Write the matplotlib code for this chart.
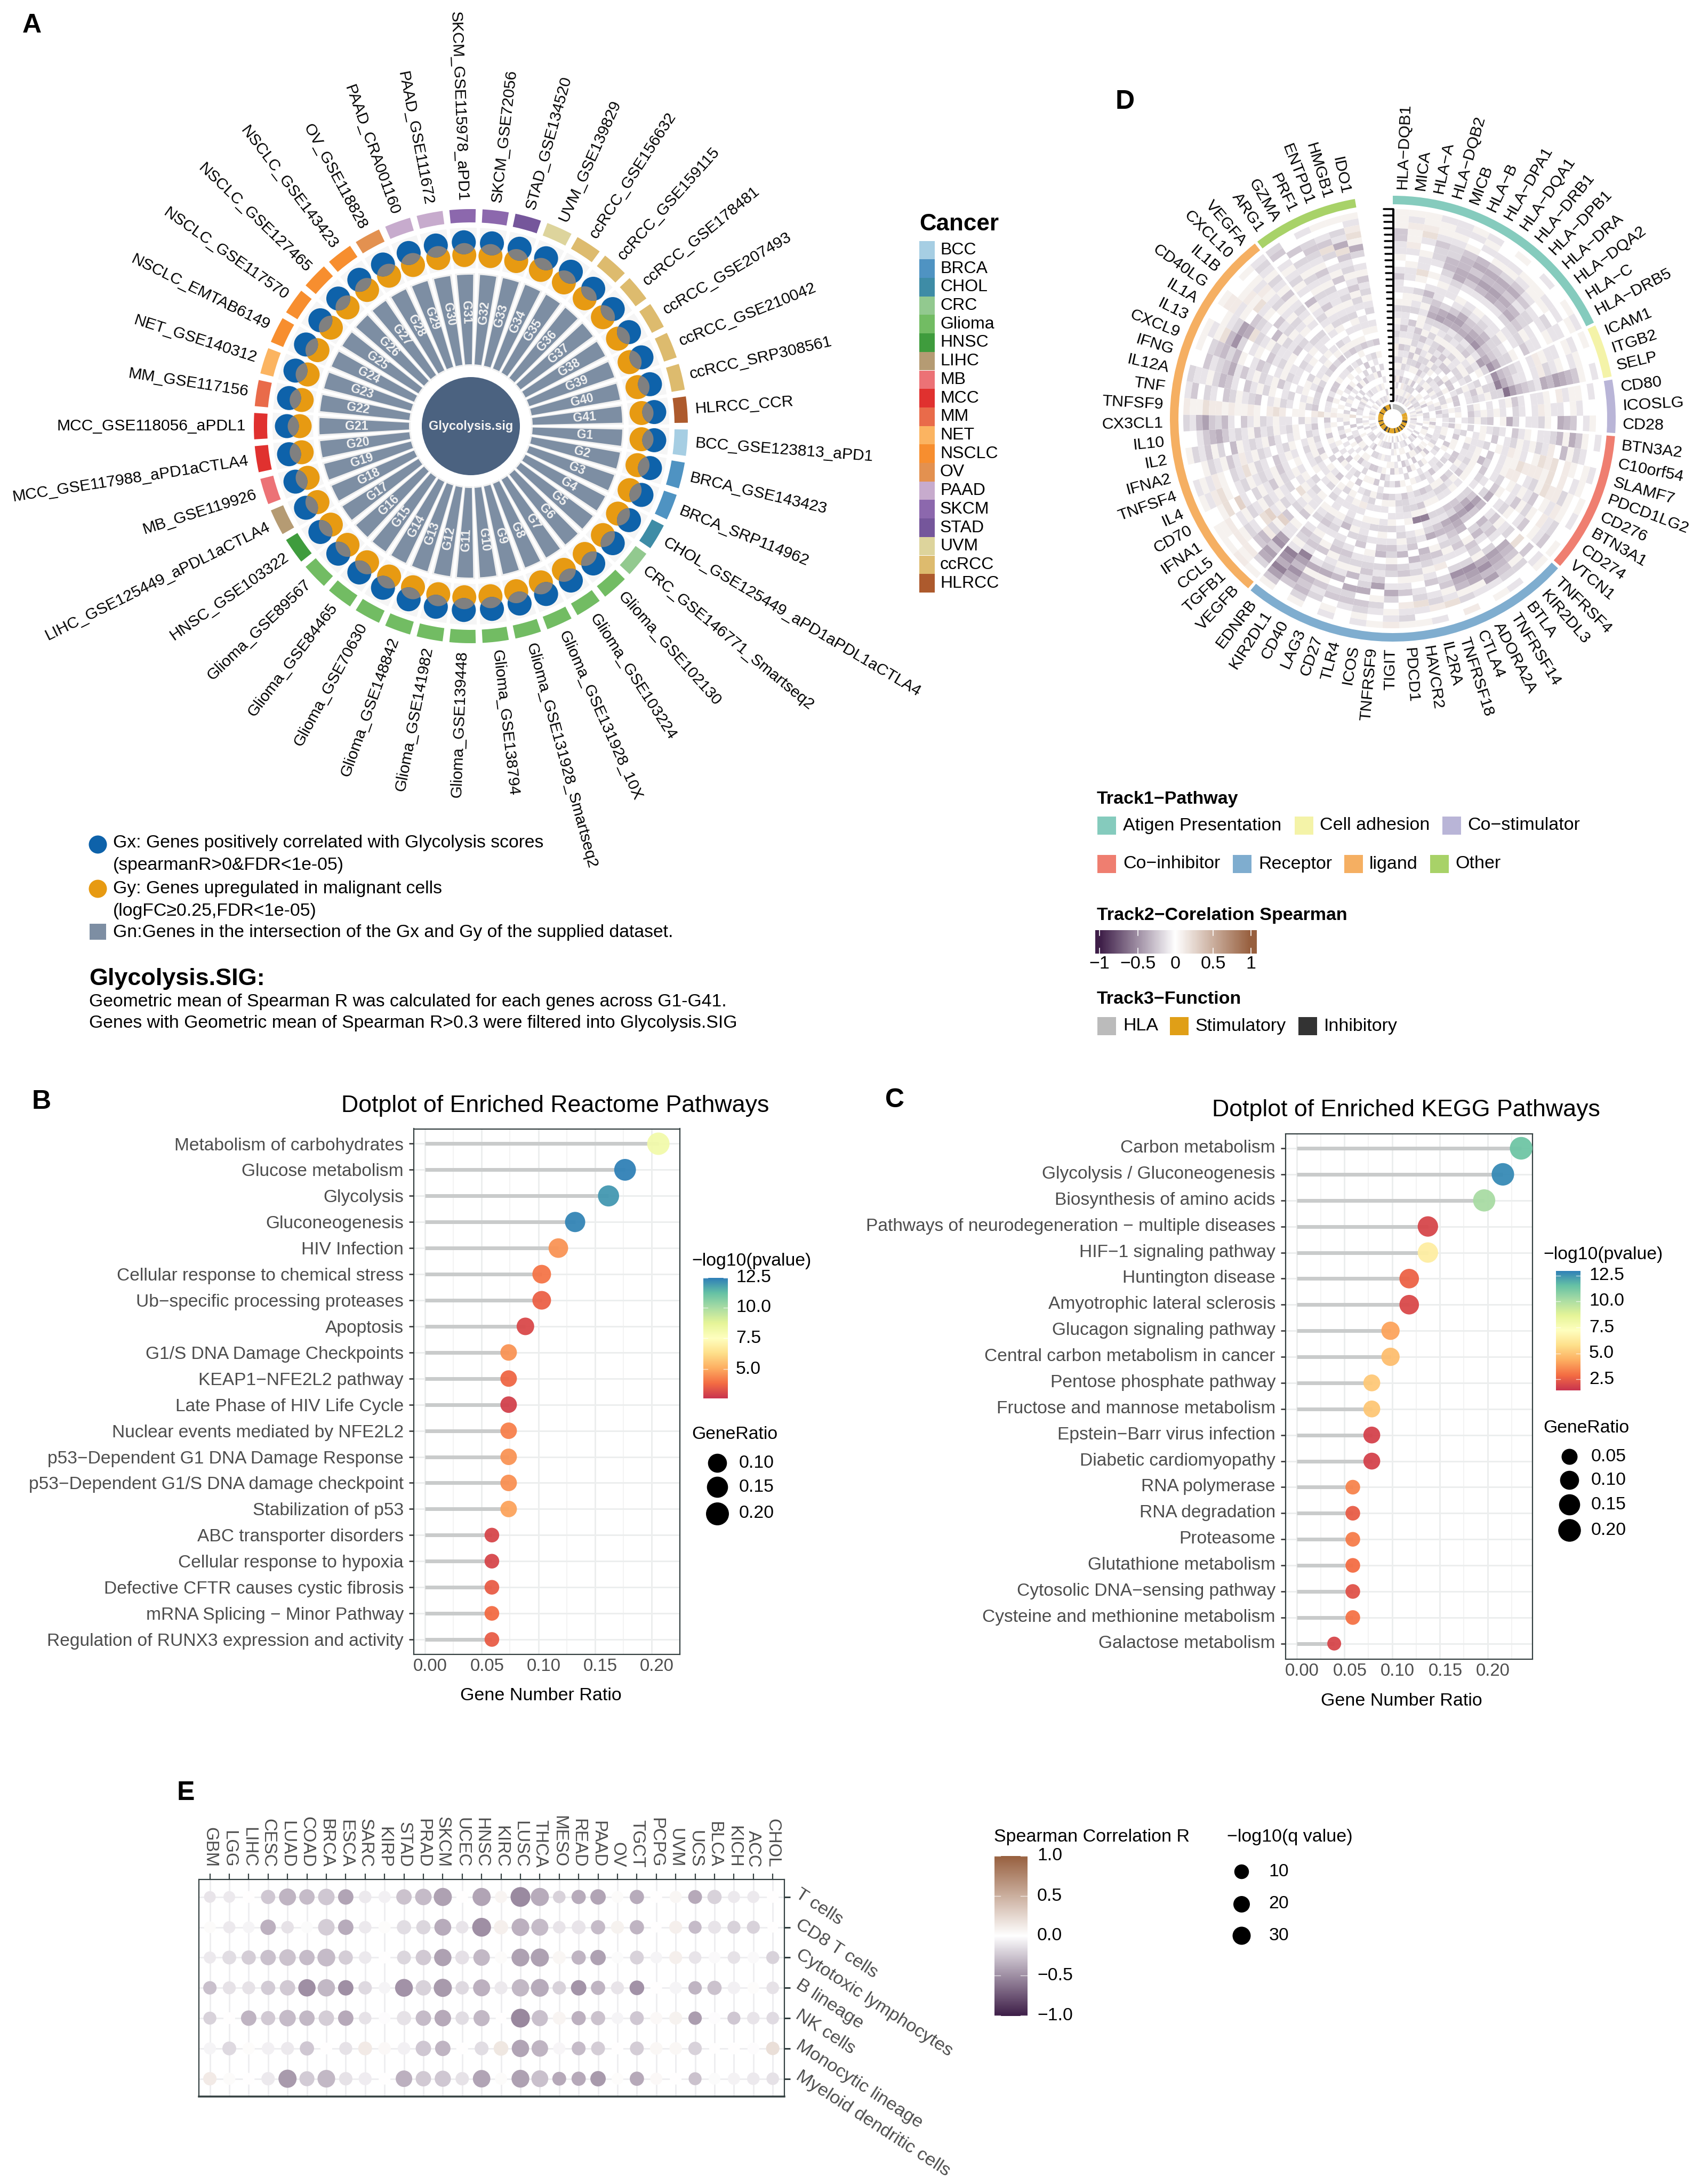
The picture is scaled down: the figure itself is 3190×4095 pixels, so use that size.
import numpy as np
import matplotlib
matplotlib.use("Agg")
import matplotlib.pyplot as plt
from matplotlib.patches import Wedge, Circle, Rectangle, Polygon
from matplotlib.colors import LinearSegmentedColormap
from matplotlib.transforms import ScaledTranslation

plt.rcParams['font.family'] = ['Liberation Sans', 'DejaVu Sans']
W, H = 3190, 4095
DPI = 100
def fs(px):
    return px * 72 / DPI

# ---------- Panel A data
A_datasets = ["BCC_GSE123813_aPD1","BRCA_GSE143423","BRCA_SRP114962","CHOL_GSE125449_aPD1aPDL1aCTLA4",
 "CRC_GSE146771_Smartseq2","Glioma_GSE102130","Glioma_GSE103224","Glioma_GSE131928_10X",
 "Glioma_GSE131928_Smartseq2","Glioma_GSE138794","Glioma_GSE139448","Glioma_GSE141982","Glioma_GSE148842",
 "Glioma_GSE70630","Glioma_GSE84465","Glioma_GSE89567","HNSC_GSE103322","LIHC_GSE125449_aPDL1aCTLA4",
 "MB_GSE119926","MCC_GSE117988_aPD1aCTLA4","MCC_GSE118056_aPDL1","MM_GSE117156","NET_GSE140312",
 "NSCLC_EMTAB6149","NSCLC_GSE117570","NSCLC_GSE127465","NSCLC_GSE143423","OV_GSE118828","PAAD_CRA001160",
 "PAAD_GSE111672","SKCM_GSE115978_aPD1","SKCM_GSE72056","STAD_GSE134520","UVM_GSE139829","ccRCC_GSE156632",
 "ccRCC_GSE159115","ccRCC_GSE178481","ccRCC_GSE207493","ccRCC_GSE210042","ccRCC_SRP308561","HLRCC_CCR"]
A_cancers = ["BCC","BRCA","CHOL","CRC","Glioma","HNSC","LIHC","MB","MCC","MM","NET","NSCLC","OV","PAAD","SKCM","STAD","UVM","ccRCC","HLRCC"]
A_colors = ["#A6CEE3","#4F93C2","#3E8CA6","#92C98F","#72BC63","#3F9C3D","#B59B73","#EC7276","#E0312F","#E96B4A",
            "#FBB461","#F78E2F","#E39150","#C7ABCD","#8C68AD","#75569B","#DDD49C","#DDBB6E","#AD5A2D"]
A_texts = ["Gx: Genes positively correlated with Glycolysis scores","(spearmanR>0&FDR<1e-05)",
           "Gy: Genes upregulated in malignant cells","(logFC\u22650.25,FDR<1e-05)",
           "Gn:Genes in the intersection of the Gx and Gy of the supplied dataset."]

# ---------- Panel B data
B_terms = ["Metabolism of carbohydrates","Glucose metabolism","Glycolysis","Gluconeogenesis","HIV Infection",
 "Cellular response to chemical stress","Ub\u2212specific processing proteases","Apoptosis","G1/S DNA Damage Checkpoints",
 "KEAP1\u2212NFE2L2 pathway","Late Phase of HIV Life Cycle","Nuclear events mediated by NFE2L2",
 "p53\u2212Dependent G1 DNA Damage Response","p53\u2212Dependent G1/S DNA damage checkpoint","Stabilization of p53",
 "ABC transporter disorders","Cellular response to hypoxia","Defective CFTR causes cystic fibrosis",
 "mRNA Splicing \u2212 Minor Pathway","Regulation of RUNX3 expression and activity"]
B_ratio = [0.206,0.1766,0.162,0.1325,0.1177,0.103,0.103,0.0886,0.0738,0.0738,0.0738,0.0738,0.0738,0.0738,0.0738,0.059,0.059,0.059,0.059,0.059]
B_logp = [8.2,12.45,12.0,12.35,4.6,4.0,3.6,3.1,4.6,3.7,2.9,4.2,4.6,4.5,4.9,3.0,3.0,3.5,3.8,3.5]

# ---------- Panel C data
C_terms = ["Carbon metabolism","Glycolysis / Gluconeogenesis","Biosynthesis of amino acids",
 "Pathways of neurodegeneration \u2212 multiple diseases","HIF\u22121 signaling pathway","Huntington disease",
 "Amyotrophic lateral sclerosis","Glucagon signaling pathway","Central carbon metabolism in cancer",
 "Pentose phosphate pathway","Fructose and mannose metabolism","Epstein\u2212Barr virus infection",
 "Diabetic cardiomyopathy","RNA polymerase","RNA degradation","Proteasome","Glutathione metabolism",
 "Cytosolic DNA\u2212sensing pathway","Cysteine and methionine metabolism","Galactose metabolism"]
C_ratio = [0.2352,0.216,0.1964,0.1374,0.1374,0.1178,0.1178,0.0982,0.0982,0.0786,0.0786,0.0786,0.0786,0.0587,0.0587,0.0587,0.0587,0.0587,0.0587,0.0392]
C_logp = [11.3,12.7,10.1,1.9,6.4,2.6,2.0,4.1,4.8,5.1,5.0,1.8,1.8,3.4,2.5,3.2,2.9,2.2,3.0,1.9]

# ---------- Panel D data
D_genes = ["HLA\u2212DQB1","MICA","HLA\u2212A","HLA\u2212DQB2","MICB","HLA\u2212B","HLA\u2212DPA1","HLA\u2212DQA1","HLA\u2212DRB1","HLA\u2212DPB1",
 "HLA\u2212DRA","HLA\u2212DQA2","HLA\u2212C","HLA\u2212DRB5","ICAM1","ITGB2","SELP","CD80","ICOSLG","CD28","BTN3A2","C10orf54",
 "SLAMF7","PDCD1LG2","CD276","BTN3A1","CD274","VTCN1","TNFRSF4","KIR2DL3","BTLA","TNFRSF14","ADORA2A","CTLA4","TNFRSF18",
 "IL2RA","HAVCR2","PDCD1","TIGIT","TNFRSF9","ICOS","TLR4","CD27","LAG3","CD40","KIR2DL1","EDNRB","VEGFB","TGFB1","CCL5",
 "IFNA1","CD70","IL4","TNFSF4","IFNA2","IL2","IL10","CX3CL1","TNFSF9","TNF","IL12A","IFNG","CXCL9","IL13","IL1A","CD40LG",
 "IL1B","CXCL10","VEGFA","ARG1","GZMA","PRF1","ENTPD1","HMGB1","IDO1"]
D_path_names = ["Atigen Presentation","Cell adhesion","Co\u2212stimulator","Co\u2212inhibitor","Receptor","ligand","Other"]
D_path_sizes = [14,3,3,8,19,22,6]
D_path_colors = ["#85CBBD","#F4F3A8","#B9B5D7","#EF7E70","#7FADCF","#F5AF62","#A8D268"]
D_function = "HHHHHHHHHHHHHH"+"SSSSSSS"+"II"+"SSS"+"I"+"SS"+"I"+"SS"+"I"+"SSS"+"I"+"SSSSS"+"I"+"SS"+"II"+"SSSS"+"I"+"SSS"+"I"+"SSSSSSS"+"I"+"SSSS"+"II"+"SSSS"+"I"
D_func_colors = {"H":"#BBBBBB","S":"#E09F17","I":"#333333"}
# one string per gene, outer ring first; '.'=0, digits = negative levels, letters = positive levels
D_heat_raw = [
"aaa3311a.1 311.a21a12 1ba2a13a21",  "a1baab1.a1 1.1aa21131 a312a1b2a1",  "aabc1.a11c a.2a12.311 a21a213.a3",
"1aa13221.a .142a1aa32 2a321.1ba1",  "11a1224421 a1134521a3 13a2a.21a2",  "a1.a344552 11.2562a21 a123a.a212",
"1a1.453531 .a136521a2 2a213132a1",  "..1a354641 .1256512a3 13a21a.2b3",  "a.1a254651 .a134521a1 312a.12.1a",
"..a1353541 .1235612a2 a31.2a3.b1",  "1.aa131452 .1145723a1 13.21a.a2b",  "..1a.12232 1a22341a1a 2.a312.a1.",
"a.1.21.1a2 1.1235612a 213.1a1.23",  "1a.11a.113 .a22572a.2 1.3a21.a2a",  "a.1a.11ab1 .123471.21 a21.2.a31.",
"..a1.a12b1 .1135822a3 1.3a2a1.a1",  "1.a3456451 2346922a12 1.3.a21.2a",  ".1.aa1b.a1 1.13a1.1.a 2.1a13.2a1",
"...1a.11ab 1.12.1a1a1 3.a.21.2.a",  ".a1.345.a2 11.25a.32a 21.21.a1.3",
"1.a35a4211 .a13.121a. 2.a31.3a.1",  "..12a4.b12 a1a21.3.a1 .21.a1a.21",  "1a.ab.cbca .1ab1a.211 a.3.a1.2.a",
".a1.b.cabb bcaa1.3.a1 2.a.21.a.1",  "a.a2bbca21 .bba1.24a1 1.a3.12a.1",  "1.ab1a.31a 1a.21.3.a2 13.a.21.2.",
"..21b.a2a3 1.a3.12.a1 a31.2a.1.1",  "a.31a.31.a 21.52.1.a3 1.2.1.a.3.",
"a1.3.c.21a 31.4632.1a 2.21.3a.1.",  "..2a345.13 24.3752.a1 3.11.a3.2.",  "1.234562.1 42.3643.12 a.3.a.21.a",
"a.16475a23 a.45623.12 a11.2.a3.1",  "..1a5672.1 3234512.a1 2.21.3a.2.",  "b.2a4572.1 a214312.a1 3.1.a.2.1a",
"..c1a32.b1 3a.5218a31 2.a.31.a1.",  "1.b21.31a2 34.1a.8a21 1a.2.3.a.2",
"a.1c21.a21 4.321.a122 3.a.1.2.1a",  "a21b.31a32 .41a21.112 1.3.a1.a2.",  "b1a.251.23 a231.2a1.a 2.1.3a.1.2",
"a.12a.6312 .431a21.1a 3.21.a1.3.",  "1a23.52132 1a.1.2a.1. 21.3a.1.2a",  "..1325.4a2 1.3211a.12 a.3.1.a.2.",
"1a.32.41a2 31.2a1.1b1 2.a.3.1.2a",  "..213a521a 321.4211a. 1.a.3.2.1.",  "a2434a51.3 a.121a.11a .3.21.2.a1",
"..35746813 2a132a11.2 a.2.1a.3.1",  "a3685781a2 31.21a.21a .11.3a.1.2",
"a.25637611 a.3a11a.2a 3.1.a.2.21",  "bab.34b2ad 3.21a12.1a 1.a3.1a.2.",  "a.ba21.cd1 a21.ca12.1 a.3.1.a.2.",
"aab.1a21a2 1a12.1a.a1 .2.1.a3.1.",  "..ac.d1.2a 13a21a1.12 a.2.1.3a.1",  "a1bca.12a1 21a31.a.1a 3.1a.21..2",
"1a1ba.21ca 21.31a1.2a 1.a.3.1.2a",  "..a21a31b1 a21.12a.1a 2.3.1a.2.1",  "a213a2.4a1 21a31.1a.2 1.a.2.3.a.",
"..13453121 a312a12a.1 3.1a.2.21.",  "21463241.3 1a21a11.2a 1.3.1a.2.1",  "baacbbabaa ba.bcb.aa. bcabaac.ab",
"13.21.32a1 23.1a21.a2 3.1a.2.1.a",  "211a2431.3 1a2a.12.1a 2.1.a.31.2",  "..31235131 a21a31.1a. 2.3a.1.2.1",
"a.23424a.1 32.1a21.a1 3.1.2a.1.a",  "a1ac472.1a .312a11.2a 2.3a.1.21.",  "..a1265c21 a211a.21.1 a.3.1.2a.1",
"abb1a.321. 4a213.1a.1 2.a.31.2.a",  "..abac1a.3 12a121a.1a 3.1.a.2.1.",  "a.a1ba12a1 a21a.211a. 2.1a.3.1.2",
"121a21a3a1 21a1.21.1a 3.2.1a.2.1",
"23.1a12a1. 4a121a1.2a 2.1a.3.1.a",  "..3.21a21a 213a12a.1a 3.2.21.1.2",  "1.2321a31a 211a12.1.a 2a.3.1.a.1",
"a.13c2.1a3 .12a12a1.a 3.1.2a.1.2",  "a.215c312a 13a21.11a. 2.21.3.a.1",  "a1bca52.1a 312a12.1a. 3.a.2.1.2a",
]
D_heat = [s.replace(' ', '') for s in D_heat_raw]
D_values = {'.':0.0,'1':-0.12,'2':-0.18,'3':-0.24,'4':-0.3,'5':-0.36,'6':-0.42,'7':-0.48,'8':-0.56,'9':-0.62,
            'a':0.08,'b':0.13,'c':0.2,'d':0.28}

# ---------- Panel E data
E_cancers = ["GBM","LGG","LIHC","CESC","LUAD","COAD","BRCA","ESCA","SARC","KIRP","STAD","PRAD","SKCM","UCEC","HNSC","KIRC",
             "LUSC","THCA","MESO","READ","PAAD","OV","TGCT","PCPG","UVM","UCS","BLCA","KICH","ACC","CHOL"]
E_cells = ["T cells","CD8 T cells","Cytotoxic lymphocytes","B lineage","NK cells","Monocytic lineage","Myeloid dendritic cells"]
E_T_R   = [-12,-10,0,-25,-33,-30,-25,-40,-10,-7,-27,-30,-42,0,-40,7,-52,-37,-20,-37,-40,3,-37,0,6,-38,-20,-10,-10,0]
E_T_q   = [3,3,3,9,23,14,20,14,5,4,14,20,30,3,30,4,42,30,5,9,14,3,9,3,4,8,9,4,4,3]
E_CD8_R = [3,-10,-5,-35,-13,-2,-22,-37,-10,2,-15,-18,-37,-12,-50,10,-35,-30,-12,-12,-30,8,-33,0,10,-30,-12,-20,-20,0]
E_CD8_q = [3,4,3,14,5,3,20,14,5,4,9,9,22,5,35,9,27,23,5,8,9,6,9,2,6,6,6,6,6,2]
E_Cyt_R = [-10,-15,-22,-28,-27,-30,-30,-22,-10,0,-18,-24,-42,-14,-32,3,-42,-42,6,-33,-42,-2,-20,-5,10,-12,-3,-13,-3,-20]
E_Cyt_q = [4,8,9,14,20,14,28,9,5,3,8,14,25,8,20,4,28,30,6,9,14,3,8,3,6,5,3,5,3,6]
E_B_R   = [-28,-13,-13,-23,-24,-50,-32,-50,-17,-5,-48,-20,-45,-17,-35,-10,-32,-37,-20,-47,-33,-12,-48,0,-5,-33,-27,-7,2,-13]
E_B_q   = [7,6,6,9,14,25,25,14,7,3,28,14,30,7,23,6,25,28,7,14,9,6,10,3,4,7,9,5,3,5]
E_NK_R  = [-20,0,-33,-24,-30,-32,-22,-38,-13,-1,-13,-30,-38,-15,-32,0,-53,-28,7,-35,-27,-5,-25,4,8,-43,-1,-25,-12,-16]
E_NK_q  = [6,3,14,9,20,14,14,14,5,3,9,14,20,7,18,2,35,18,6,9,9,3,8,4,6,7,3,6,5,5]
E_Mono_R= [-5,-17,2,-7,-10,-25,0,-13,13,4,-7,-25,-33,0,-15,15,-40,-33,-4,-30,-22,0,-22,5,5,-20,0,0,-1,20]
E_Mono_q= [4,8,4,5,6,9,3,6,8,5,5,14,14,3,8,10,25,20,4,8,8,3,8,5,5,7,2,3,3,7]
E_Mye_R = [13,3,0,-10,-45,-23,-32,-13,-8,0,-35,-24,-25,-13,-40,3,-42,-28,-38,-38,-45,2,-38,4,0,-27,-2,-6,-10,-13]
E_Mye_q = [7,4,3,7,30,12,27,7,6,3,20,14,18,7,26,4,28,22,8,9,14,3,9,4,3,6,3,4,5,5]

# ---------- helpers
fig = plt.figure(figsize=(W/DPI, H/DPI), dpi=DPI, facecolor='white')
def axpx(x0, y0, x1, y1, **kw):
    return fig.add_axes([x0/W, 1-y1/H, (x1-x0)/W, (y1-y0)/H], **kw)
ov = axpx(0, 0, W, H)
ov.set_xlim(0, W); ov.set_ylim(H, 0); ov.axis('off'); ov.set_zorder(5); ov.patch.set_alpha(0)
def T(x, y, s, px=32, ha='left', va='center', **kw):
    kw.setdefault('color', 'black')
    ov.text(x, y, s, fontsize=fs(px), ha=ha, va=va, **kw)
def swatch(x0, y0, x1, y1, c):
    ov.add_patch(Rectangle((x0, y0), x1-x0, y1-y0, fc=c, ec='none'))

cmap_corr = LinearSegmentedColormap.from_list('corr', ['#3E1E48', '#FFFFFF', '#975F3E'])
cmap_spec = LinearSegmentedColormap.from_list('spec', ['#C9344F','#F46D43','#FDAE61','#FEE08B','#FFFFBF','#E6F598','#ABDDA4','#66C2A5','#2E7FB8'])

def radial_text(ax, theta_deg, r, s, px, **kw):
    """theta measured clockwise from east in degrees."""
    th = np.deg2rad(theta_deg)
    x, y = r*np.cos(th), -r*np.sin(th)
    rot = -theta_deg
    c = np.cos(th)
    if c >= 0:
        ha = 'left'
    else:
        ha = 'right'; rot += 180
    ax.text(x, y, s, fontsize=fs(px), rotation=rot, rotation_mode='anchor', ha=kw.pop('ha', ha), va='center', clip_on=False, **kw)

def lens_polygon(p0, p1, r):
    """Overlap region of two equal circles."""
    p0, p1 = np.array(p0), np.array(p1)
    v = p1 - p0
    d = np.hypot(*v)
    base = np.arctan2(v[1], v[0])
    half = np.arccos(d/(2*r))
    t = np.linspace(-half, half, 30)
    a = p0[:, None] + r*np.array([np.cos(base+t), np.sin(base+t)])
    b = p1[:, None] + r*np.array([np.cos(base+np.pi+t), np.sin(base+np.pi+t)])
    return np.hstack([a, b]).T

# ---------- Panel A
cxA, cyA, R = 883, 799, 700
axA = axpx(cxA-R, cyA-R, cxA+R, cyA+R)
axA.set_xlim(-R, R); axA.set_ylim(-R, R); axA.axis('off')
n = len(A_datasets)
step = 360/n
col_of = dict(zip(A_cancers, A_colors))
rdot = 22.5
for i, name in enumerate(A_datasets):
    th = step/2 + step*i
    t1, t2 = -th-step/2, -th+step/2
    axA.add_patch(Wedge((0, 0), 407, t1+0.9, t2-0.9, width=25, fc=col_of[name.split('_')[0]], ec='none'))
    axA.add_patch(Wedge((0, 0), 372, t1+0.5, t2-0.5, width=76, fc='#F5F5F5', ec='none'))
    axA.add_patch(Wedge((0, 0), 287, t1+0.6, t2-0.6, width=174, fc='#EFEFEF', ec='none'))
    axA.add_patch(Wedge((0, 0), 284, t1+1.3, t2-1.3, width=168, fc='#7D8EA3', ec='none'))
    radial_text(axA, th, 214, 'G%d' % (i+1), 23, ha='center', color='#F2F2F2', fontweight='bold')
    rad = np.deg2rad(th)
    pb = (345*np.cos(rad), -345*np.sin(rad))
    po = (321*np.cos(rad), -321*np.sin(rad))
    axA.add_patch(Circle(po, rdot, fc='#E79A12', ec='none', zorder=3))
    axA.add_patch(Circle(pb, rdot, fc='#0E62AA', ec='none', zorder=4))
    axA.add_patch(Polygon(lens_polygon(po, pb, rdot), closed=True, fc='#808080', ec='none', zorder=5))
    radial_text(axA, th, 422, name, 30)
axA.add_patch(Circle((0, 0), 92, fc='#4B6280', ec='none'))
axA.text(0, 0, 'Glycolysis.sig', color='#F2F2F2', fontweight='bold', fontsize=fs(23.5), ha='center', va='center')

T(1724, 420, 'Cancer', 44, fontweight='bold')
for i, (c, col) in enumerate(zip(A_cancers, A_colors)):
    y = 469 + 34.7*i
    swatch(1724, y-17.3, 1753, y+17.3, col)
    T(1763, y, c, 32)

ov.scatter([183], [1583], s=fs(34)**2, c='#0E62AA', lw=0)
ov.scatter([183], [1666], s=fs(34)**2, c='#E79A12', lw=0)
swatch(168, 1732, 199, 1762, '#7D8EA3')
for s, y in zip(A_texts, [1581, 1623, 1667, 1708, 1748]):
    T(212, y, s, 33.8)
T(167, 1835, 'Glycolysis.SIG:', 45, fontweight='bold')
T(167, 1879, 'Geometric mean of Spearman R was calculated for each genes across G1-G41.', 33.8)
T(167, 1918, 'Genes with Geometric mean of Spearman R>0.3 were filtered into Glycolysis.SIG', 33.8)

# ---------- Panels B and C
def diam_of(r):
    return np.interp(r, [0.039, 0.059, 0.074, 0.089, 0.103, 0.118, 0.133, 0.162, 0.177, 0.206, 0.235],
                        [26, 27.5, 31, 33, 35, 36.7, 38, 39.6, 40.8, 42, 42.5])

def lollipop(box, x0px, unit_, y0px, dy, terms, ratio, logp, vmin, vmax, ticks_major, ticks_minor, lab_up):
    l, t, r_, b = box
    ax = axpx(l, t, r_, b)
    ax.set_xlim((l-x0px)/unit_, (r_-x0px)/unit_)
    ax.set_ylim((b-y0px)/dy, (t-y0px)/dy)
    ypos = np.arange(len(terms))
    ax.set_axisbelow(True)
    ax.set_xticks(ticks_major); ax.set_xticks(ticks_minor, minor=True)
    ax.grid(True, which='major', color='#ECEEEE', lw=fs(3))
    ax.grid(True, which='minor', axis='x', color='#F1F2F2', lw=fs(1.7))
    ax.hlines(ypos, 0, ratio, color='#C9CBCB', lw=fs(7), zorder=2)
    s = [fs(d)**2 for d in diam_of(np.array(ratio))]
    ax.scatter(ratio, ypos, s=s, c=logp, cmap=cmap_spec, vmin=vmin, vmax=vmax, lw=0, zorder=3, clip_on=False, alpha=0.95)
    ax.set_yticks(ypos); ax.set_yticklabels(terms)
    ax.tick_params(axis='y', which='major', length=fs(9), width=fs(2.5), color='#333333', labelcolor='#4D4D4D', labelsize=fs(33.5), pad=fs(10))
    ax.tick_params(axis='x', which='major', length=0, labelcolor='#4D4D4D', labelsize=fs(33), pad=fs(7))
    ax.tick_params(axis='x', which='minor', length=0)
    ax.set_xticklabels(['%.2f' % v for v in ticks_major])
    off = ScaledTranslation(10/DPI, 0, fig.dpi_scale_trans)
    for lab in ax.get_xticklabels():
        lab.set_transform(lab.get_transform()+off)
    off2 = ScaledTranslation(0, lab_up/DPI, fig.dpi_scale_trans)
    for lab in ax.get_yticklabels():
        lab.set_transform(lab.get_transform()+off2)
    for sp in ax.spines.values():
        sp.set_linewidth(fs(2.2)); sp.set_color('#333F40')
    return ax

lollipop((776, 2116.5, 1275, 3102), 798, 2210, 2144.5, 48.92, B_terms, B_ratio, B_logp, 2.6, 12.5,
         [0, .05, .10, .15, .20], [.025, .075, .125, .175, .225], 0)
lollipop((2411, 2125.6, 2874, 3111), 2432, 1789, 2153, 48.88, C_terms, C_ratio, C_logp, 1.42, 12.96,
         [0, .05, .10, .15, .20], [.025, .075, .125, .175, .225], 4)
T(1041, 2074, 'Dotplot of Enriched Reactome Pathways', 44.8, ha='center')
T(2637, 2082, 'Dotplot of Enriched KEGG Pathways', 44.8, ha='center')
T(1014, 3179, 'Gene Number Ratio', 34, ha='center')
T(2628, 3189, 'Gene Number Ratio', 34, ha='center')

def vbar(x0, y0, x1, y1, cmap):
    a = axpx(x0, y0, x1, y1)
    a.imshow(np.linspace(1, 0, 256)[:, None], aspect='auto', cmap=cmap, vmin=0, vmax=1)
    a.axis('off')

T(1297, 2364, '\u2212log10(pvalue)', 33.8)
vbar(1319, 2396, 1365, 2621.6, cmap_spec)
for lab, y in zip(['12.5', '10.0', '7.5', '5.0'], [2396, 2452, 2509, 2567.5]):
    T(1380, y, lab, 33.8)
    ov.plot([1319, 1327], [y, y], color='white', lw=1, alpha=.7); ov.plot([1357, 1365], [y, y], color='white', lw=1, alpha=.7)
T(1297, 2690, 'GeneRatio', 33.8)
for lab, y, d in zip(['0.10', '0.15', '0.20'], [2743, 2788.5, 2838], [35.6, 39.6, 43]):
    ov.scatter([1345], [y], s=fs(d)**2, c='k', lw=0)
    T(1386, y, lab, 33.8)
T(2894, 2352, '\u2212log10(pvalue)', 33.8)
vbar(2918, 2383, 2964, 2607.5, cmap_spec)
for lab, y in zip(['12.5', '10.0', '7.5', '5.0', '2.5'], [2392, 2440, 2489, 2538, 2586.5]):
    T(2980, y, lab, 33.8)
    ov.plot([2918, 2926], [y, y], color='white', lw=1, alpha=.7); ov.plot([2956, 2964], [y, y], color='white', lw=1, alpha=.7)
T(2894, 2678, 'GeneRatio', 33.8)
for lab, y, d in zip(['0.05', '0.10', '0.15', '0.20'], [2731, 2775, 2821, 2869], [30, 35.6, 39.6, 42.5]):
    ov.scatter([2943], [y], s=fs(d)**2, c='k', lw=0)
    T(2984, y, lab, 33.8)

# ---------- Panel D
cxD, cyD, RD = 2612, 785, 520
axD = axpx(cxD-RD, cyD-RD, cxD+RD, cyD+RD)
axD.set_xlim(-RD, RD); axD.set_ylim(-RD, RD); axD.axis('off')
gap = 0.8
gw = (350.2 - gap*(len(D_path_sizes)-1))/len(D_genes)
ang = 0.0
g = 0
rows_out, rh, rows = 393, 12.0, 30
for size, col in zip(D_path_sizes, D_path_colors):
    start = ang
    for k in range(size):
        a1, a2 = ang, ang+gw
        for row, ch in enumerate(D_heat[g]):
            v = D_values.get(ch, 0.0)
            if v == 0:
                continue
            axD.add_patch(Wedge((0, 0), rows_out-row*rh, 90-a2, 90-a1, width=rh, fc=cmap_corr((v+1)/2), ec='none', lw=0))
        axD.add_patch(Wedge((0, 0), 27.5, 90-a2-0.05, 90-a1+0.05, width=9.5, fc=D_func_colors[D_function[g]], ec='none', zorder=4))
        radial_text(axD, (a1+a2)/2-90, 431, D_genes[g], 30.5)
        ang += gw
        g += 1
    axD.add_patch(Wedge((0, 0), 418, 90-ang, 90-start, width=16, fc=col, ec='none'))
    ang += gap
axD.add_patch(Circle((0, 0), 31, fc='white', ec='none', zorder=3))
radii = rows_out - rh*np.arange(rows+1)
axD.plot([0.7, 0.7], [radii[-1], radii[0]], color='black', lw=fs(4), solid_capstyle='butt', zorder=6)
for r_ in radii:
    axD.plot([0.7, 0.7-15*r_/393-3], [r_, r_], color='black', lw=fs(3.5), zorder=6, solid_capstyle='round')

T(2057, 1498, 'Track1\u2212Pathway', 34, fontweight='bold')
for nm, col, xs, xt, yc in zip(D_path_names, D_path_colors,
        [2058, 2428, 2705, 2058, 2312, 2521, 2681.5], [2106, 2475, 2752, 2106, 2360, 2568, 2729],
        [1548, 1548, 1548, 1620, 1620, 1620, 1620]):
    swatch(xs, yc-17, xs+35, yc+17, col)
    T(xt, yc, nm, 34)
T(2057, 1717, 'Track2\u2212Corelation Spearman', 34, fontweight='bold')
a = axpx(2054, 1744, 2357, 1788)
a.imshow(np.linspace(-1.056, 1.077, 300)[None, :], aspect='auto', cmap=cmap_corr, vmin=-1, vmax=1)
a.axis('off')
for lab, x in zip(['\u22121', '\u22120.5', '0', '0.5', '1'], [2062, 2134, 2204, 2275, 2346]):
    T(x, 1808, lab, 34, ha='center')
    ov.plot([x, x], [1744, 1754], color='white', lw=1.2); ov.plot([x, x], [1778, 1788], color='white', lw=1.2)
T(2057, 1873, 'Track3\u2212Function', 34, fontweight='bold')
for nm, key, xs, xt in zip(['HLA', 'Stimulatory', 'Inhibitory'], ['H', 'S', 'I'], [2058, 2194, 2435], [2106, 2241.5, 2483]):
    swatch(xs, 1907, xs+35, 1941, D_func_colors[key])
    T(xt, 1924, nm, 34)

# ---------- Panel E
axE = axpx(373, 3523.5, 1471, 3931)
axE.set_xlim(-0.566, 29.6); axE.set_ylim(6.588, -0.586)
E_R = np.array([E_T_R, E_CD8_R, E_Cyt_R, E_B_R, E_NK_R, E_Mono_R, E_Mye_R])/100
E_q = np.array([E_T_q, E_CD8_q, E_Cyt_q, E_B_q, E_NK_q, E_Mono_q, E_Mye_q])
def diam_q(q):
    return np.interp(q, [2, 3, 10, 20, 30, 42], [20, 22, 27.5, 31, 34, 37])
xx, yy = np.meshgrid(np.arange(len(E_cancers)), np.arange(len(E_cells)))
axE.set_axisbelow(True)
axE.grid(True, color='#EEEEF0', lw=fs(3))
axE.scatter(xx.ravel(), yy.ravel(), s=fs(diam_q(E_q.ravel()))**2, c=E_R.ravel(), cmap=cmap_corr, vmin=-1, vmax=1, lw=0, zorder=3)
axE.xaxis.tick_top(); axE.yaxis.tick_right()
axE.set_xticks(np.arange(len(E_cancers))); axE.set_yticks(np.arange(len(E_cells)))
axE.set_xticklabels(E_cancers, rotation=-90, ha='center', va='bottom', color='#4D4D4D', fontsize=fs(33))
axE.set_yticklabels(E_cells, rotation=-33, ha='left', va='center', rotation_mode='anchor', color='#4D4D4D', fontsize=fs(34.5))
axE.tick_params(axis='x', length=fs(11), width=fs(2.2), color='#333F40', pad=fs(11))
axE.tick_params(axis='y', length=fs(11), width=fs(3), color='#333F40', pad=fs(13))
off = ScaledTranslation(0, 8/DPI, fig.dpi_scale_trans)
for lab in axE.get_yticklabels():
    lab.set_transform(lab.get_transform()+off)
for sp in axE.spines.values():
    sp.set_linewidth(fs(2.2)); sp.set_color('#333F40')
axE.spines['bottom'].set_linewidth(fs(3.5))

T(1864.5, 3445, 'Spearman Correlation R', 34)
vbar(1864.5, 3479.5, 1925.8, 3780, cmap_corr)
for lab, y in zip(['1.0', '0.5', '0.0', '\u22120.5', '\u22121.0'], [3480, 3555, 3629.5, 3704.5, 3779]):
    T(1945, y, lab, 33.8)
    ov.plot([1864.5, 1876], [y, y], color='white', lw=1, alpha=.7); ov.plot([1914, 1925.8], [y, y], color='white', lw=1, alpha=.7)
T(2300.7, 3445, '\u2212log10(q value)', 34)
for lab, y, d in zip(['10', '20', '30'], [3509, 3570, 3629], [27.5, 31, 34]):
    ov.scatter([2328], [y], s=fs(d)**2, c='k', lw=0)
    T(2379.6, y, lab, 33.8)

# ---------- panel letters
for s, x, y in [('A', 42, 48), ('B', 60, 2066), ('C', 1660, 2063), ('D', 2092, 191), ('E', 332, 3362)]:
    T(x, y, s, 50, fontweight='bold')

fig.savefig('out.png', dpi=DPI, facecolor='white')
